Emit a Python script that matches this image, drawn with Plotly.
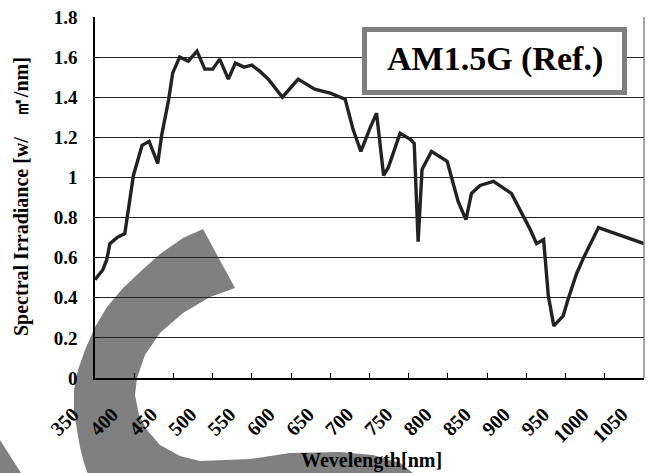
import plotly.graph_objects as go

# AM1.5G reference spectrum (read at the curve's vertices)
wavelength_nm = [350, 360, 365, 369, 378, 388, 399, 410, 419, 430, 435, 444, 449, 458,
                 469, 480, 490, 500, 509, 520, 529, 540, 550, 560, 571, 589, 609, 630,
                 650, 669, 679, 689, 701, 709, 718, 724, 739, 752, 757, 762, 767, 779,
                 799, 813, 823, 830, 841, 858, 881, 905, 913, 922, 928, 935, 947, 953,
                 964, 973, 992, 1050]
irradiance = [0.49, 0.54, 0.59, 0.67, 0.70, 0.72, 1.01, 1.16, 1.18, 1.07, 1.21, 1.39, 1.52, 1.60,
              1.58, 1.63, 1.54, 1.54, 1.59, 1.49, 1.57, 1.55, 1.56, 1.53, 1.49, 1.40, 1.49, 1.44,
              1.42, 1.39, 1.24, 1.13, 1.25, 1.32, 1.01, 1.05, 1.22, 1.19, 1.17, 0.68, 1.04, 1.13,
              1.08, 0.88, 0.79, 0.92, 0.96, 0.98, 0.92, 0.74, 0.67, 0.69, 0.41, 0.26, 0.31, 0.39,
              0.52, 0.60, 0.75, 0.67]

x_tick_values = list(range(350, 1051, 50))
y_tick_values = [0, 0.2, 0.4, 0.6, 0.8, 1.0, 1.2, 1.4, 1.6, 1.8]
y_tick_labels = ["0", "0.2", "0.4", "0.6", "0.8", "1", "1.2", "1.4", "1.6", "1.8"]

series_label = "AM1.5G (Ref.)"
x_title = "Wevelength[nm]"
y_title = "Spectral Irradiance [w/\u3000\u33a1/nm]"

# figure geometry (pixels)
W, H = 652, 473
ML, MR, MT, MB = 95, 8, 17, 95
PW, PH = W - ML - MR, H - MT - MB


def to_px(x):
    return (x - ML) / PW


def to_py(y):
    return (H - MB - y) / PH


def path_from(points):
    parts = [f"{'M' if i == 0 else 'L'} {to_px(x):.4f},{to_py(y):.4f}" for i, (x, y) in enumerate(points)]
    return " ".join(parts) + " Z"


# decorative grey swoosh behind the plot
swoosh_outer = [(203, 229), (183, 238), (160, 254), (140, 272), (123, 288), (107, 307),
                (95, 327), (85, 350), (78, 370), (74, 390), (74, 410), (77, 430), (80, 447),
                (84, 463), (90, 480), (95, 495)]
swoosh_inner = [(430, 495), (413, 473), (400, 463), (373, 455), (340, 452), (290, 453),
                (250, 459), (200, 461), (180, 456), (160, 445), (147, 430), (139, 415),
                (135, 395), (137, 378), (145, 355), (160, 333), (183, 313), (210, 297),
                (235, 288)]
corner_piece = [(0, 440), (35, 495), (0, 495)]

serif = "Liberation Serif, Times New Roman, serif"
ink = "#222222"

fig = go.Figure()
fig.add_trace(go.Scatter(
    x=wavelength_nm, y=irradiance, mode="lines",
    line=dict(color=ink, width=3.4), showlegend=False, hoverinfo="skip",
))

shapes = [
    dict(type="path", xref="paper", yref="paper", layer="below",
         path=path_from(swoosh_outer + swoosh_inner), fillcolor="#808080", line=dict(width=0)),
    dict(type="path", xref="paper", yref="paper", layer="below",
         path=path_from(corner_piece), fillcolor="#808080", line=dict(width=0)),
    # right frame edge
    dict(type="line", xref="paper", yref="paper", x0=1, x1=1, y0=0, y1=1,
         line=dict(color="#888888", width=1.5), layer="above"),
    # series label box
    dict(type="rect", xref="paper", yref="paper",
         x0=to_px(364.5), x1=to_px(624.5), y0=to_py(92.5), y1=to_py(29.5),
         fillcolor="white", line=dict(color="#7f7f7f", width=5), layer="above"),
]

annotations = [
    dict(text=series_label, xref="paper", yref="paper", x=to_px(495), y=to_py(59),
         xanchor="center", yanchor="middle", showarrow=False,
         font=dict(family=serif, size=34, color="black", weight="bold")),
    dict(text=x_title, xref="paper", yref="paper", x=to_px(371), y=to_py(460),
         xanchor="center", yanchor="middle", showarrow=False,
         font=dict(family=serif, size=20, color="black", weight="bold")),
    dict(text=y_title, xref="paper", yref="paper", x=to_px(21), y=to_py(197),
         xanchor="center", yanchor="middle", showarrow=False, textangle=-90,
         font=dict(family=serif, size=20, color="black", weight="bold")),
]

fig.update_layout(
    width=W, height=H,
    margin=dict(l=ML, r=MR, t=MT, b=MB, autoexpand=False),
    paper_bgcolor="white", plot_bgcolor="rgba(0,0,0,0)",
    shapes=shapes, annotations=annotations, showlegend=False,
)
fig.update_xaxes(
    range=[350, 1050], tickmode="array", tickvals=x_tick_values,
    tickangle=-45, ticks="inside", ticklen=5, tickcolor="black",
    showgrid=False, zeroline=False, showline=True, linecolor="black", linewidth=1.5,
    tickfont=dict(family=serif, size=20, color="black", weight="bold"),
    ticklabelstandoff=15, ticklabelshift=-22, ticklabeloverflow="allow",
)
fig.update_yaxes(
    range=[0, 1.8], tickmode="array", tickvals=y_tick_values, ticktext=y_tick_labels,
    ticks="inside", ticklen=4, tickcolor="black",
    showgrid=True, gridcolor="#222222", gridwidth=1, zeroline=False,
    showline=True, linecolor="black", linewidth=1.5,
    tickfont=dict(family=serif, size=19, color="black", weight="bold"),
    ticklabelstandoff=12,
)

fig.write_html("out.html")
